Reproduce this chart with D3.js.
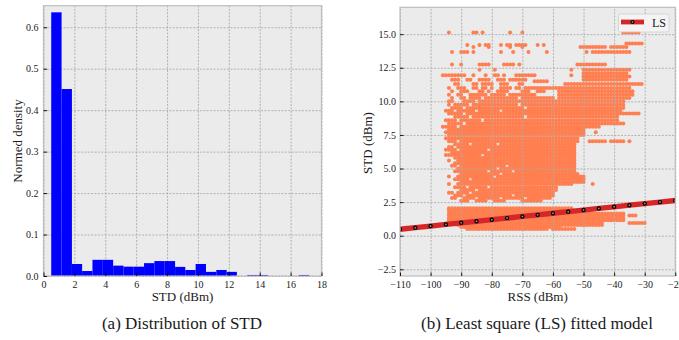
<!DOCTYPE html>
<html>
<head>
<meta charset="utf-8">
<script src="https://cdn.jsdelivr.net/npm/d3@7"></script>
<style>
  body { margin: 0; background: #fff; }
  svg { display: block; }
  text { font-family: "Liberation Serif", "Times New Roman", serif; fill: #1a1a1a; }
</style>
</head>
<body>
<svg id="fig" width="679" height="340"></svg>
<script>
// ---- (a) histogram of STD ----
const stdBinEdges = [0.50, 1.17, 1.84, 2.50, 3.17, 3.84, 4.51, 5.18, 5.84, 6.51, 7.18, 7.85, 8.52,
                     9.18, 9.85, 10.52, 11.19, 11.86, 12.52, 13.19, 13.86, 14.53, 15.20, 15.86, 16.53, 17.20];
const stdDensity = [0.636, 0.451, 0.029, 0.012, 0.039, 0.039, 0.025, 0.0225, 0.0225, 0.031, 0.036, 0.036,
                    0.022, 0.0145, 0.029, 0.010, 0.0145, 0.010, 0, 0.0025, 0.0025, 0, 0, 0, 0.0025];
const histXTicks = [0, 2, 4, 6, 8, 10, 12, 14, 16, 18];
const histYTicks = [0.0, 0.1, 0.2, 0.3, 0.4, 0.5, 0.6];

// ---- (b) RSS vs STD scatter, stored as horizontal runs of integer-dBm readings ----
// each row: [STD, [[rssFrom, rssTo], ...]]
const scatterRows = [
  [15.12, [[-94,-94],[-86,-85],[-83,-83],[-74,-74],[-70,-70],[-37,-32]]],
  [14.30, [[-36,-31]]],
  [14.20, [[-88,-88],[-84,-84],[-82,-81],[-77,-77],[-75,-74],[-72,-69],[-65,-65],[-63,-63]]],
  [14.05, [[-86,-86],[-81,-81],[-74,-74],[-70,-70],[-51,-49],[-48,-47],[-46,-43],[-41,-36]]],
  [13.68, [[-93,-93],[-90,-88],[-86,-86],[-77,-77],[-73,-73],[-68,-68],[-62,-62],[-49,-49],[-47,-35]]],
  [12.74, [[-93,-93],[-90,-90],[-84,-81],[-76,-73],[-71,-71],[-52,-51],[-50,-44],[-43,-43]]],
  [12.35, [[-84,-84],[-79,-79],[-54,-54],[-50,-35]]],
  [12.10, [[-50,-36]]],
  [11.95, [[-96,-92],[-91,-90],[-89,-89],[-86,-86],[-82,-82],[-79,-78],[-76,-76],[-72,-71],[-70,-66],[-54,-54]]],
  [11.85, [[-50,-35]]],
  [11.60, [[-93,-91],[-88,-87],[-84,-81],[-78,-76],[-74,-71],[-70,-69],[-50,-36]]],
  [11.50, [[-66,-62]]],
  [11.30, [[-92,-91],[-86,-85],[-83,-80],[-77,-75],[-71,-70],[-56,-50],[-49,-31]]],
  [11.00, [[-94,-94],[-91,-89],[-86,-85],[-83,-82],[-80,-80],[-77,-74],[-72,-71],[-69,-61],[-60,-50],[-49,-35]]],
  [10.75, [[-93,-93],[-90,-88],[-84,-83],[-81,-81],[-78,-75],[-70,-68],[-65,-63],[-58,-34]]],
  [10.50, [[-94,-94],[-91,-90],[-87,-82],[-80,-76],[-74,-66],[-58,-34]]],
  [10.25, [[-93,-93],[-90,-89],[-87,-84],[-82,-79],[-78,-72],[-70,-60],[-58,-35]]],
  [10.00, [[-94,-93],[-89,-86],[-84,-80],[-79,-70],[-69,-37]]],
  [9.75,  [[-94,-94],[-92,-88],[-86,-80],[-79,-72],[-70,-37]]],
  [9.50,  [[-93,-90],[-88,-84],[-83,-77],[-76,-70],[-68,-37]]],
  [9.30,  [[-95,-93],[-91,-86],[-84,-78],[-76,-71],[-70,-38]]],
  [9.10,  [[-94,-90],[-88,-83],[-82,-76],[-75,-68],[-67,-32]]],
  [8.85,  [[-92,-88],[-86,-79],[-78,-70],[-68,-39]]],
  [8.60,  [[-95,-92],[-90,-84],[-82,-75],[-74,-66],[-65,-39]]],
  [8.35,  [[-94,-90],[-88,-80],[-79,-72],[-71,-37]]],
  [8.10,  [[-96,-92],[-90,-84],[-83,-76],[-75,-68],[-67,-45]]],
  [7.90,  [[-94,-88],[-87,-80],[-79,-70],[-69,-50]]],
  [7.70,  [[-95,-90],[-89,-82],[-81,-74],[-73,-50],[-46,-46]]],
  [7.50,  [[-94,-89],[-88,-80],[-79,-72],[-71,-50]]],
  [7.25,  [[-95,-91],[-90,-84],[-83,-76],[-75,-52]]],
  [7.03,  [[-94,-92],[-90,-82],[-81,-74],[-73,-52],[-48,-43],[-41,-37],[-35,-35]]],
  [6.80,  [[-92,-88],[-86,-79],[-77,-53]]],
  [6.60,  [[-94,-93],[-91,-84],[-83,-76],[-75,-53]]],
  [6.40,  [[-95,-92],[-90,-82],[-80,-74],[-73,-53]]],
  [6.20,  [[-93,-88],[-87,-80],[-79,-53]]],
  [6.00,  [[-95,-90],[-89,-84],[-82,-75],[-74,-53]]],
  [5.80,  [[-92,-86],[-85,-78],[-77,-53]]],
  [5.60,  [[-94,-94],[-91,-85],[-84,-76],[-75,-53]]],
  [5.40,  [[-92,-88],[-87,-80],[-79,-53]]],
  [5.20,  [[-93,-92],[-90,-84],[-83,-76],[-74,-53]]],
  [5.00,  [[-91,-86],[-85,-79],[-77,-68],[-67,-53]]],
  [4.80,  [[-92,-88],[-87,-82],[-80,-74],[-72,-53]]],
  [4.60,  [[-90,-85],[-84,-78],[-76,-69],[-68,-52]]],
  [4.40,  [[-94,-94],[-91,-86],[-85,-80],[-78,-50]]],
  [4.20,  [[-92,-88],[-86,-79],[-78,-70],[-69,-50]]],
  [4.00,  [[-90,-84],[-83,-76],[-75,-50]]],
  [3.85,  [[-94,-94],[-91,-86],[-85,-78],[-77,-54],[-47,-47]]],
  [3.60,  [[-92,-89],[-87,-82],[-80,-72],[-71,-59]]],
  [3.40,  [[-90,-86],[-84,-78],[-77,-68],[-67,-59]]],
  [3.20,  [[-94,-93],[-91,-88],[-86,-80],[-79,-70],[-69,-60]]],
  [3.00,  [[-92,-90],[-88,-83],[-82,-74],[-72,-60]]],
  [2.80,  [[-93,-92],[-89,-86],[-84,-78],[-76,-70],[-68,-61]]],
  [2.60,  [[-90,-88],[-85,-82],[-79,-76],[-70,-64]]],
  [2.05,  [[-94,-92],[-91,-84],[-83,-74],[-73,-66],[-65,-54]]],
  [1.85,  [[-94,-50]]],
  [1.65,  [[-94,-37]]],
  [1.50,  [[-94,-37],[-35,-33]]],
  [1.30,  [[-94,-37]]],
  [1.15,  [[-94,-37]]],
  [0.95,  [[-94,-44],[-35,-30]]],
  [0.80,  [[-91,-44]]],
  [0.65,  [[-90,-58]]],
  [0.50,  [[-88,-62],[-60,-53]]]
];

// least-square fit evaluated at the marker positions
const lsRss = [-110, -105, -100, -95, -90, -85, -80, -75, -70, -65, -60, -55, -50, -45, -40, -35, -30, -25, -20];
const lsStd = [0.48, 0.60, 0.72, 0.84, 0.96, 1.07, 1.19, 1.31, 1.43, 1.55, 1.67, 1.79, 1.91, 2.03, 2.15, 2.27, 2.39, 2.50, 2.62];
const rssTicks = [-110, -100, -90, -80, -70, -60, -50, -40, -30, -20];
const stdTicks = [-2.5, 0.0, 2.5, 5.0, 7.5, 10.0, 12.5, 15.0];

const svg = d3.select("#fig");
const BG = "#ebebeb", FRAME = "#bdbdbd", GRID = "#ababab";

function styleGrid(g) {
  g.select(".domain").remove();
  g.selectAll("line").attr("stroke", GRID).attr("stroke-width", 0.9).attr("stroke-dasharray", "2,1.4");
}
function styleAxis(g) {
  g.select(".domain").remove();
  g.selectAll("line").attr("stroke", "#000").attr("stroke-width", 0.9);
  g.selectAll("text").attr("font-size", 10).attr("fill", "#1a1a1a")
    .attr("font-family", "'Liberation Serif','Times New Roman',serif");
}

// ================= panel (a) =================
{
  const L = 43.5, R = 321.5, T = 5.7, B = 276;
  const x = d3.scaleLinear().domain([0, 18]).range([L, R]);
  const y = d3.scaleLinear().domain([0, 0.652]).range([B, T]);
  const g = svg.append("g");
  g.append("rect").attr("x", L).attr("y", T).attr("width", R - L).attr("height", B - T).attr("fill", BG);

  g.append("g").attr("transform", `translate(0,${B})`)
    .call(d3.axisBottom(x).tickValues(histXTicks).tickSize(-(B - T)).tickFormat(""))
    .call(styleGrid);
  g.append("g").attr("transform", `translate(${L},0)`)
    .call(d3.axisLeft(y).tickValues(histYTicks).tickSize(-(R - L)).tickFormat(""))
    .call(styleGrid);

  const bins = stdDensity.map((d, i) => ({ x0: stdBinEdges[i], x1: stdBinEdges[i + 1], v: d }));
  g.append("g").selectAll("rect").data(bins.filter(b => b.v > 0)).join("rect")
    .attr("x", b => x(b.x0)).attr("width", b => x(b.x1) - x(b.x0))
    .attr("y", b => y(b.v)).attr("height", b => y(0) - y(b.v))
    .attr("fill", "#0000ff");

  g.append("rect").attr("x", L).attr("y", T).attr("width", R - L).attr("height", B - T)
    .attr("fill", "none").attr("stroke", FRAME).attr("stroke-width", 1.2);

  g.append("g").attr("transform", `translate(0,${B})`)
    .call(d3.axisBottom(x).tickValues(histXTicks).tickSize(-3.5).tickPadding(5).tickFormat(d3.format("d")))
    .call(styleAxis);
  g.append("g").attr("transform", `translate(${L},0)`)
    .call(d3.axisLeft(y).tickValues(histYTicks).tickSize(-3.5).tickPadding(5).tickFormat(d3.format(".1f")))
    .call(styleAxis);

  g.append("text").attr("x", (L + R) / 2).attr("y", 301).attr("text-anchor", "middle")
    .attr("font-size", 13).text("STD (dBm)");
  g.append("text").attr("transform", `translate(22,141) rotate(-90)`).attr("text-anchor", "middle")
    .attr("font-size", 13).text("Normed density");
  g.append("text").attr("x", 182).attr("y", 329).attr("text-anchor", "middle")
    .attr("font-size", 17).text("(a) Distribution of STD");
}

// ================= panel (b) =================
{
  const L = 400, R = 675.3, T = 7.3, B = 276;
  const x = d3.scaleLinear().domain([-110, -20]).range([L, R]);
  const y = d3.scaleLinear().domain([-3, 17]).range([B, T]);
  const g = svg.append("g");
  g.append("rect").attr("x", L).attr("y", T).attr("width", R - L).attr("height", B - T).attr("fill", BG);

  svg.append("clipPath").attr("id", "clipB").append("rect")
    .attr("x", L).attr("y", T).attr("width", R - L).attr("height", B - T);

  const pts = [];
  scatterRows.forEach(([s, runs]) => runs.forEach(([a, b]) => {
    for (let r = a; r <= b; r++) pts.push([r, s]);
  }));
  g.append("g").attr("clip-path", "url(#clipB)").selectAll("circle").data(pts).join("circle")
    .attr("cx", d => x(d[0])).attr("cy", d => y(d[1])).attr("r", 2.0).attr("fill", "#ff7f50");

  g.append("g").attr("transform", `translate(0,${B})`)
    .call(d3.axisBottom(x).tickValues(rssTicks).tickSize(-(B - T)).tickFormat(""))
    .call(styleGrid);
  g.append("g").attr("transform", `translate(${L},0)`)
    .call(d3.axisLeft(y).tickValues(stdTicks).tickSize(-(R - L)).tickFormat(""))
    .call(styleGrid);

  const ls = lsRss.map((r, i) => [r, lsStd[i]]);
  const fit = g.append("g").attr("clip-path", "url(#clipB)");
  fit.append("path").datum(ls)
    .attr("d", d3.line().x(d => x(d[0])).y(d => y(d[1])))
    .attr("fill", "none").attr("stroke", "#d62728").attr("stroke-width", 5.3);
  fit.selectAll("circle").data(ls).join("circle")
    .attr("cx", d => x(d[0])).attr("cy", d => y(d[1])).attr("r", 1.6)
    .attr("fill", "#8a8a8a").attr("stroke", "#000").attr("stroke-width", 1.2);

  g.append("rect").attr("x", L).attr("y", T).attr("width", R - L).attr("height", B - T)
    .attr("fill", "none").attr("stroke", FRAME).attr("stroke-width", 1.2);

  g.append("g").attr("transform", `translate(0,${B})`)
    .call(d3.axisBottom(x).tickValues(rssTicks).tickSize(-3.5).tickPadding(4.5).tickFormat(d3.format("d")))
    .call(styleAxis);
  g.append("g").attr("transform", `translate(${L},0)`)
    .call(d3.axisLeft(y).tickValues(stdTicks).tickSize(-3.5).tickPadding(4).tickFormat(d3.format(".1f")))
    .call(styleAxis);

  // legend
  const lg = g.append("g");
  lg.append("rect").attr("x", 618.5).attr("y", 14).attr("width", 50.5).attr("height", 18).attr("rx", 2)
    .attr("fill", "#f6f6f6").attr("fill-opacity", 0.85).attr("stroke", "#cfcfcf").attr("stroke-width", 0.8);
  lg.append("line").attr("x1", 621).attr("x2", 644).attr("y1", 22).attr("y2", 22)
    .attr("stroke", "#d62728").attr("stroke-width", 4.8);
  lg.append("circle").attr("cx", 632.5).attr("cy", 22).attr("r", 1.5)
    .attr("fill", "#8a8a8a").attr("stroke", "#000").attr("stroke-width", 1.2);
  lg.append("text").attr("x", 652).attr("y", 26.5).attr("font-size", 12).text("LS");

  g.append("text").attr("x", (L + R) / 2).attr("y", 301).attr("text-anchor", "middle")
    .attr("font-size", 13).text("RSS (dBm)");
  g.append("text").attr("transform", `translate(372,143) rotate(-90)`).attr("text-anchor", "middle")
    .attr("font-size", 13).text("STD (dBm)");
  g.append("text").attr("x", 537).attr("y", 329).attr("text-anchor", "middle")
    .attr("font-size", 17).text("(b) Least square (LS) fitted model");
}
</script>
</body>
</html>
